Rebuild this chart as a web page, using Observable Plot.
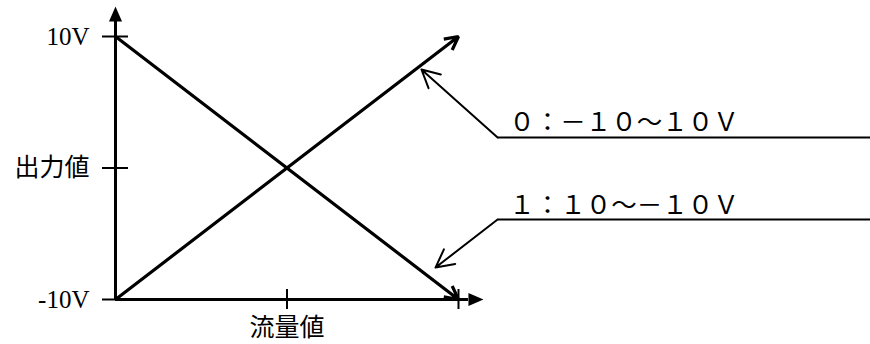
<!DOCTYPE html>
<html>
<head>
<meta charset="utf-8">
<script src="https://cdn.jsdelivr.net/npm/d3@7"></script>
<script src="https://cdn.jsdelivr.net/npm/@observablehq/plot@0.6"></script>
<style>
  html, body { margin: 0; padding: 0; background: #fff; }
</style>
</head>
<body>
<div id="chart"></div>
<script>
// ---- data ----
const flowRange = [0, 100];          // 流量値 (percent of full scale)
const mode0Output = [-10, 10];       // 0: -10 ~ 10 V
const mode1Output = [10, -10];       // 1: 10 ~ -10 V
const yTicks = [-10, 0, 10];
const yTickLabels = ["-10V", "出力値", "10V"];
const xTicks = [50, 100];
const xTickLabels = ["流量値", ""];
const calloutLabels = ["０：－１０～１０Ｖ", "１：１０～－１０Ｖ"];
const calloutTipFlow = [89.2, 93.3];
const calloutTipVolt = [7.49, -7.57];
const calloutKneeFlow = 111.4;
const calloutKneeVolt = [2.32, -3.92];
const calloutEndFlow = 220;
const axisEndFlow = 102.9;   // x axis arrow base
const axisEndVolt = 11.14;   // y axis arrow base

// ---- tables ----
const lines = [
  {x1: flowRange[0], y1: mode0Output[0], x2: flowRange[1], y2: mode0Output[1]},
  {x1: flowRange[0], y1: mode1Output[0], x2: flowRange[1], y2: mode1Output[1]}
];
const callouts = calloutLabels.map((label, i) => ({
  label,
  tipX: calloutTipFlow[i], tipY: calloutTipVolt[i],
  kneeX: calloutKneeFlow, kneeY: calloutKneeVolt[i],
  endX: calloutEndFlow
}));

// custom filled narrow arrowhead pointing up, base at the anchor point
const arrowHead = {
  draw(ctx, size) {
    const k = Math.sqrt(size / Math.PI) / 7.5;
    ctx.moveTo(0, -15 * k);
    ctx.lineTo(6.5 * k, 0);
    ctx.lineTo(-6.5 * k, 0);
    ctx.closePath();
  }
};

const FONT = "'Liberation Serif', 'Noto Sans CJK JP', serif";

const chart = Plot.plot({
  width: 870,
  height: 344,
  marginLeft: 115,
  marginRight: 412,
  marginTop: 36,
  marginBottom: 45,
  x: {domain: flowRange, axis: null},
  y: {domain: [-10, 10], axis: null},
  style: {fontFamily: FONT, fontSize: "25px", color: "#000", background: "#fff", overflow: "visible"},
  marks: [
    // y axis line + arrow
    Plot.ruleX([0], {y1: -10, y2: axisEndVolt, stroke: "#000", strokeWidth: 3}),
    Plot.dot([{x: 0, y: axisEndVolt}], {x: "x", y: "y", r: 7.5, symbol: arrowHead, fill: "#000", stroke: null}),
    // x axis line + arrow
    Plot.ruleY([-10], {x1: 0, x2: axisEndFlow, stroke: "#000", strokeWidth: 3}),
    Plot.dot([{x: axisEndFlow, y: -10}], {x: "x", y: "y", r: 7.5, symbol: arrowHead, rotate: 90, fill: "#000", stroke: null}),
    // y ticks (left half with labels) and right half
    Plot.axisY({
      ticks: yTicks, tickSize: 13, tickPadding: 13, strokeWidth: 2,
      tickFormat: d => yTickLabels[yTicks.indexOf(d)],
      fontSize: 25, fontFamily: FONT, fill: "#000", stroke: "#000"
    }),
    Plot.ruleY(yTicks, {x1: 0, x2: 13 / 3.43, stroke: "#000", strokeWidth: 2}),
    // x ticks (lower half with labels) and upper half
    Plot.axisX({
      ticks: xTicks, tickSize: 10, tickPadding: 9, strokeWidth: 2,
      tickFormat: d => xTickLabels[xTicks.indexOf(d)],
      fontSize: 25, fontFamily: FONT, fill: "#000", stroke: "#000"
    }),
    Plot.ruleX(xTicks, {y1: -10, y2: -10 + 10 / 13.15, stroke: "#000", strokeWidth: 2}),
    // the two output lines
    Plot.arrow(lines, {
      x1: "x1", y1: "y1", x2: "x2", y2: "y2",
      stroke: "#000", strokeWidth: 3.2, headLength: 7, headAngle: 55,
      strokeLinejoin: "miter", strokeLinecap: "butt"
    }),
    // callouts
    Plot.arrow(callouts, {
      x1: "kneeX", y1: "kneeY", x2: "tipX", y2: "tipY",
      stroke: "#000", strokeWidth: 2, headLength: 15, headAngle: 55
    }),
    Plot.link(callouts, {
      x1: "kneeX", y1: "kneeY", x2: "endX", y2: "kneeY",
      stroke: "#000", strokeWidth: 2
    }),
    Plot.text(callouts, {
      x: 114.8, y: "kneeY", text: "label",
      textAnchor: "start", lineAnchor: "bottom", dy: -6,
      fontSize: 25.5, fontFamily: "'Noto Sans CJK JP', sans-serif", fill: "#000"
    })
  ]
});

document.getElementById("chart").appendChild(chart);
</script>
</body>
</html>
